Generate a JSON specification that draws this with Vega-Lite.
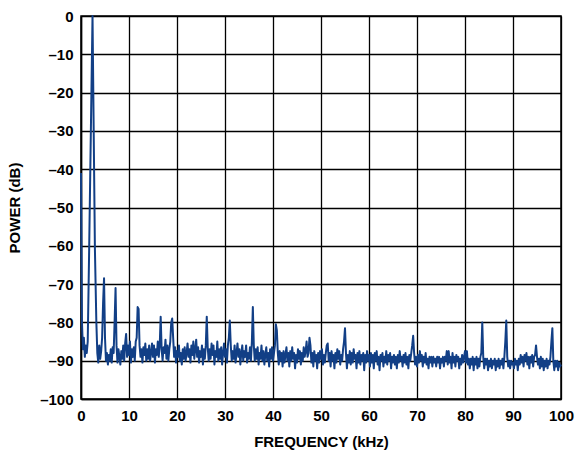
{
"$schema":"https://vega.github.io/schema/vega-lite/v6.json",
"autosize":"none","width":480,"height":383,
"padding":{"left":81,"top":16,"right":15,"bottom":52},
"background":"white",
"config":{"view":{"stroke":"black","strokeWidth":1.5},
"axis":{"labelFont":"Liberation Sans","titleFont":"Liberation Sans","labelFontWeight":"bold","titleFontWeight":"bold","labelFontSize":15,"titleFontSize":15,"labelColor":"black","titleColor":"black","gridColor":"black","gridWidth":1.3,"gridOpacity":1,"domainColor":"black","domainWidth":1.5,"ticks":false}},
"data":{"values":[
{"f":0,"p":-41},{"f":0.2,"p":-80},{"f":0.4,"p":-87},{"f":0.6,"p":-84},{"f":0.8,"p":-89},{"f":1.0,"p":-86},{"f":1.2,"p":-88},{"f":1.4,"p":-85},{"f":1.7,"p":-61},{"f":2.4,"p":0},{"f":2.9,"p":-61},{"f":3.2,"p":-80},
{"f":3.4,"p":-88},{"f":3.6,"p":-90.5},{"f":3.8,"p":-86},{"f":4.0,"p":-89.5},{"f":4.2,"p":-87.5},{"f":4.4,"p":-84},{"f":4.6,"p":-75},{"f":4.8,"p":-68.5},{"f":5.0,"p":-84},{"f":5.2,"p":-90},{"f":5.4,"p":-88},{"f":5.6,"p":-91},{"f":5.8,"p":-88.5},{"f":6.0,"p":-90},{"f":6.2,"p":-87},{"f":6.4,"p":-90.5},{"f":6.6,"p":-86.5},{"f":6.8,"p":-88},{"f":7.0,"p":-80},{"f":7.2,"p":-71},{"f":7.4,"p":-86},{"f":7.6,"p":-90.5},{"f":7.8,"p":-87},{"f":8.0,"p":-89},{"f":8.2,"p":-91},{"f":8.4,"p":-87.5},{"f":8.6,"p":-89.5},{"f":8.8,"p":-86},{"f":9.0,"p":-90},{"f":9.2,"p":-85.5},{"f":9.4,"p":-83},{"f":9.6,"p":-89},{"f":9.8,"p":-86},
{"f":10.0,"p":-88.5},{"f":10.2,"p":-85},{"f":10.4,"p":-90.5},{"f":10.6,"p":-87},{"f":10.8,"p":-89},{"f":11.0,"p":-86.5},{"f":11.2,"p":-90},{"f":11.4,"p":-85},{"f":11.6,"p":-84},{"f":11.8,"p":-76},{"f":12.0,"p":-76.5},{"f":12.2,"p":-86},{"f":12.4,"p":-89},{"f":12.6,"p":-87},{"f":12.8,"p":-90.5},{"f":13.0,"p":-86.5},{"f":13.2,"p":-88.5},{"f":13.4,"p":-85.5},{"f":13.6,"p":-90},{"f":13.8,"p":-87},{"f":14.0,"p":-89.5},{"f":14.2,"p":-86},{"f":14.4,"p":-90},{"f":14.6,"p":-88},{"f":14.8,"p":-85.5},{"f":15.0,"p":-89},{"f":15.2,"p":-86},{"f":15.4,"p":-90.5},{"f":15.6,"p":-87},{"f":15.8,"p":-88.5},{"f":16.0,"p":-85},{"f":16.2,"p":-89},{"f":16.4,"p":-86},{"f":16.6,"p":-78.5},{"f":16.8,"p":-87},{"f":17.0,"p":-90},{"f":17.2,"p":-86.5},{"f":17.4,"p":-88},{"f":17.6,"p":-84.5},{"f":17.8,"p":-89.5},{"f":18.0,"p":-86},{"f":18.2,"p":-90},{"f":18.4,"p":-87},{"f":18.6,"p":-85},{"f":18.8,"p":-80},{"f":19.0,"p":-79},{"f":19.2,"p":-84},{"f":19.4,"p":-89},{"f":19.6,"p":-86.5},{"f":19.8,"p":-90.5},
{"f":20.0,"p":-87.5},{"f":20.2,"p":-89},{"f":20.4,"p":-86},{"f":20.6,"p":-90},{"f":20.8,"p":-88},{"f":21.0,"p":-91},{"f":21.2,"p":-87},{"f":21.4,"p":-89.5},{"f":21.6,"p":-86.5},{"f":21.8,"p":-90},{"f":22.0,"p":-88},{"f":22.2,"p":-85.5},{"f":22.4,"p":-89},{"f":22.6,"p":-87},{"f":22.8,"p":-90.5},{"f":23.0,"p":-86},{"f":23.2,"p":-88.5},{"f":23.4,"p":-85},{"f":23.6,"p":-89.5},{"f":23.8,"p":-87},{"f":24.0,"p":-84.5},{"f":24.2,"p":-89},{"f":24.4,"p":-86.5},{"f":24.6,"p":-90.5},{"f":24.8,"p":-87.5},{"f":25.0,"p":-89},{"f":25.2,"p":-86},{"f":25.4,"p":-91},{"f":25.6,"p":-87},{"f":25.8,"p":-89.5},{"f":26.0,"p":-86},{"f":26.2,"p":-78.5},{"f":26.4,"p":-86.5},{"f":26.6,"p":-90},{"f":26.8,"p":-87},{"f":27.0,"p":-89.5},{"f":27.2,"p":-85.5},{"f":27.4,"p":-88.5},{"f":27.6,"p":-86},{"f":27.8,"p":-91},{"f":28.0,"p":-87.5},{"f":28.2,"p":-89},{"f":28.4,"p":-85},{"f":28.6,"p":-90},{"f":28.8,"p":-87},{"f":29.0,"p":-89.5},{"f":29.2,"p":-86.5},{"f":29.4,"p":-91},{"f":29.6,"p":-88},{"f":29.8,"p":-85.5},
{"f":30.0,"p":-89},{"f":30.2,"p":-87},{"f":30.4,"p":-90.5},{"f":30.6,"p":-86},{"f":30.8,"p":-84},{"f":31.0,"p":-79.5},{"f":31.2,"p":-86},{"f":31.4,"p":-90},{"f":31.6,"p":-87.5},{"f":31.8,"p":-89.5},{"f":32.0,"p":-86},{"f":32.2,"p":-90.5},{"f":32.4,"p":-88},{"f":32.6,"p":-85.5},{"f":32.8,"p":-89},{"f":33.0,"p":-87},{"f":33.2,"p":-91},{"f":33.4,"p":-88},{"f":33.6,"p":-86},{"f":33.8,"p":-90},{"f":34.0,"p":-87.5},{"f":34.2,"p":-89},{"f":34.4,"p":-86},{"f":34.6,"p":-90.5},{"f":34.8,"p":-88},{"f":35.0,"p":-89.5},{"f":35.2,"p":-86.5},{"f":35.4,"p":-90},{"f":35.6,"p":-85},{"f":35.8,"p":-76},{"f":36.0,"p":-86},{"f":36.2,"p":-90},{"f":36.4,"p":-87},{"f":36.6,"p":-89.5},{"f":36.8,"p":-86.5},{"f":37.0,"p":-91},{"f":37.2,"p":-88},{"f":37.4,"p":-89.5},{"f":37.6,"p":-86},{"f":37.8,"p":-90},{"f":38.0,"p":-87.5},{"f":38.2,"p":-91},{"f":38.4,"p":-88.5},{"f":38.6,"p":-86.5},{"f":38.8,"p":-90},{"f":39.0,"p":-88},{"f":39.2,"p":-91.5},{"f":39.4,"p":-87},{"f":39.6,"p":-89.5},{"f":39.8,"p":-86.5},
{"f":40.0,"p":-90},{"f":40.2,"p":-88},{"f":40.4,"p":-86},{"f":40.6,"p":-80.5},{"f":40.8,"p":-82},{"f":41.0,"p":-88},{"f":41.2,"p":-91},{"f":41.4,"p":-87.5},{"f":41.6,"p":-90},{"f":41.8,"p":-88},{"f":42.0,"p":-91.5},{"f":42.2,"p":-87.5},{"f":42.4,"p":-90.5},{"f":42.6,"p":-88.5},{"f":42.8,"p":-86.5},{"f":43.0,"p":-90},{"f":43.2,"p":-88},{"f":43.4,"p":-91.5},{"f":43.6,"p":-87.5},{"f":43.8,"p":-90},{"f":44.0,"p":-86.5},{"f":44.2,"p":-89.5},{"f":44.4,"p":-88},{"f":44.6,"p":-92},{"f":44.8,"p":-88.5},{"f":45.0,"p":-90.5},{"f":45.2,"p":-87},{"f":45.4,"p":-89.5},{"f":45.6,"p":-87.5},{"f":45.8,"p":-91},{"f":46.0,"p":-88},{"f":46.2,"p":-90},{"f":46.4,"p":-86.5},{"f":46.6,"p":-89},{"f":46.8,"p":-87.5},{"f":47.0,"p":-85},{"f":47.2,"p":-89},{"f":47.4,"p":-88},{"f":47.6,"p":-84},{"f":47.8,"p":-86},{"f":48.0,"p":-90.5},{"f":48.2,"p":-88},{"f":48.4,"p":-91.5},{"f":48.6,"p":-87.5},{"f":48.8,"p":-90},{"f":49.0,"p":-88.5},{"f":49.2,"p":-92},{"f":49.4,"p":-88},{"f":49.6,"p":-90.5},{"f":49.8,"p":-87.5},
{"f":50.0,"p":-89.5},{"f":50.2,"p":-87},{"f":50.4,"p":-91},{"f":50.6,"p":-88.5},{"f":50.8,"p":-90.5},{"f":51.0,"p":-88},{"f":51.2,"p":-86},{"f":51.4,"p":-85.5},{"f":51.6,"p":-90},{"f":51.8,"p":-88},{"f":52.0,"p":-91.5},{"f":52.2,"p":-87.5},{"f":52.4,"p":-90},{"f":52.6,"p":-88.5},{"f":52.8,"p":-92},{"f":53.0,"p":-88},{"f":53.2,"p":-90.5},{"f":53.4,"p":-87},{"f":53.6,"p":-89.5},{"f":53.8,"p":-87.5},{"f":54.0,"p":-91},{"f":54.2,"p":-88.5},{"f":54.4,"p":-90},{"f":54.6,"p":-87},{"f":54.8,"p":-85},{"f":55.0,"p":-81.5},{"f":55.2,"p":-88},{"f":55.4,"p":-92},{"f":55.6,"p":-88.5},{"f":55.8,"p":-90.5},{"f":56.0,"p":-87.5},{"f":56.2,"p":-91},{"f":56.4,"p":-88},{"f":56.6,"p":-90.5},{"f":56.8,"p":-87},{"f":57.0,"p":-89.5},{"f":57.2,"p":-88.5},{"f":57.4,"p":-92},{"f":57.6,"p":-88},{"f":57.8,"p":-90.5},{"f":58.0,"p":-87.5},{"f":58.2,"p":-91},{"f":58.4,"p":-88.5},{"f":58.6,"p":-90},{"f":58.8,"p":-88},{"f":59.0,"p":-92.5},{"f":59.2,"p":-88.5},{"f":59.4,"p":-90.5},{"f":59.6,"p":-87.5},{"f":59.8,"p":-90},
{"f":60.0,"p":-88.5},{"f":60.2,"p":-91.5},{"f":60.4,"p":-88},{"f":60.6,"p":-90.5},{"f":60.8,"p":-88.5},{"f":61.0,"p":-92},{"f":61.2,"p":-88},{"f":61.4,"p":-90},{"f":61.6,"p":-87.5},{"f":61.8,"p":-91},{"f":62.0,"p":-89},{"f":62.2,"p":-92.5},{"f":62.4,"p":-88.5},{"f":62.6,"p":-90},{"f":62.8,"p":-88},{"f":63.0,"p":-91.5},{"f":63.2,"p":-89},{"f":63.4,"p":-90.5},{"f":63.6,"p":-87.5},{"f":63.8,"p":-91},{"f":64.0,"p":-88.5},{"f":64.2,"p":-90},{"f":64.4,"p":-88},{"f":64.6,"p":-92},{"f":64.8,"p":-89},{"f":65.0,"p":-90.5},{"f":65.2,"p":-88.5},{"f":65.4,"p":-91},{"f":65.6,"p":-89},{"f":65.8,"p":-92},{"f":66.0,"p":-88.5},{"f":66.2,"p":-90.5},{"f":66.4,"p":-87.5},{"f":66.6,"p":-90},{"f":66.8,"p":-89},{"f":67.0,"p":-91.5},{"f":67.2,"p":-88.5},{"f":67.4,"p":-90.5},{"f":67.6,"p":-88},{"f":67.8,"p":-91},{"f":68.0,"p":-89},{"f":68.2,"p":-92},{"f":68.4,"p":-88.5},{"f":68.6,"p":-90},{"f":68.8,"p":-88},{"f":69.0,"p":-86},{"f":69.2,"p":-83.5},{"f":69.4,"p":-88},{"f":69.6,"p":-91},{"f":69.8,"p":-89},
{"f":70.0,"p":-91.5},{"f":70.2,"p":-88.5},{"f":70.4,"p":-90.5},{"f":70.6,"p":-87.5},{"f":70.8,"p":-90},{"f":71.0,"p":-88.5},{"f":71.2,"p":-91.5},{"f":71.4,"p":-89},{"f":71.6,"p":-90.5},{"f":71.8,"p":-88},{"f":72.0,"p":-91},{"f":72.2,"p":-89.5},{"f":72.4,"p":-92},{"f":72.6,"p":-89},{"f":72.8,"p":-90.5},{"f":73.0,"p":-89},{"f":73.2,"p":-91.5},{"f":73.4,"p":-89},{"f":73.6,"p":-90.5},{"f":73.8,"p":-89.5},{"f":74.0,"p":-91.5},{"f":74.2,"p":-89},{"f":74.4,"p":-90.5},{"f":74.6,"p":-89},{"f":74.8,"p":-92},{"f":75.0,"p":-89.5},{"f":75.2,"p":-90.5},{"f":75.4,"p":-89},{"f":75.6,"p":-91.5},{"f":75.8,"p":-89},{"f":76.0,"p":-90},{"f":76.2,"p":-87.5},{"f":76.4,"p":-91},{"f":76.6,"p":-87.5},{"f":76.8,"p":-90.5},{"f":77.0,"p":-89},{"f":77.2,"p":-92},{"f":77.4,"p":-88},{"f":77.6,"p":-90.5},{"f":77.8,"p":-89},{"f":78.0,"p":-91.5},{"f":78.2,"p":-88.5},{"f":78.4,"p":-90},{"f":78.6,"p":-89},{"f":78.8,"p":-92},{"f":79.0,"p":-89.5},{"f":79.2,"p":-91},{"f":79.4,"p":-88.5},{"f":79.6,"p":-90.5},{"f":79.8,"p":-89},
{"f":80.0,"p":-87.5},{"f":80.2,"p":-90.5},{"f":80.4,"p":-87.5},{"f":80.6,"p":-91},{"f":80.8,"p":-89.5},{"f":81.0,"p":-92},{"f":81.2,"p":-89.5},{"f":81.4,"p":-91},{"f":81.6,"p":-89},{"f":81.8,"p":-92.5},{"f":82.0,"p":-89.5},{"f":82.2,"p":-91},{"f":82.4,"p":-89},{"f":82.6,"p":-92},{"f":82.8,"p":-89.5},{"f":83.0,"p":-91.5},{"f":83.2,"p":-89},{"f":83.4,"p":-88},{"f":83.6,"p":-80},{"f":83.8,"p":-89},{"f":84.0,"p":-92},{"f":84.2,"p":-89.5},{"f":84.4,"p":-91},{"f":84.6,"p":-89.5},{"f":84.8,"p":-92.5},{"f":85.0,"p":-90},{"f":85.2,"p":-91.5},{"f":85.4,"p":-89.5},{"f":85.6,"p":-92},{"f":85.8,"p":-90},{"f":86.0,"p":-91},{"f":86.2,"p":-89.5},{"f":86.4,"p":-92.5},{"f":86.6,"p":-90},{"f":86.8,"p":-91.5},{"f":87.0,"p":-89.5},{"f":87.2,"p":-92},{"f":87.4,"p":-90},{"f":87.6,"p":-91},{"f":87.8,"p":-89.5},{"f":88.0,"p":-92},{"f":88.2,"p":-89},{"f":88.4,"p":-85},{"f":88.6,"p":-79.5},{"f":88.8,"p":-89},{"f":89.0,"p":-91.5},{"f":89.2,"p":-90},{"f":89.4,"p":-92},{"f":89.6,"p":-90},{"f":89.8,"p":-91},
{"f":90.0,"p":-90.5},{"f":90.2,"p":-92},{"f":90.4,"p":-89.5},{"f":90.6,"p":-91},{"f":90.8,"p":-90},{"f":91.0,"p":-92.5},{"f":91.2,"p":-89.5},{"f":91.4,"p":-91},{"f":91.6,"p":-88.5},{"f":91.8,"p":-90.5},{"f":92.0,"p":-89},{"f":92.2,"p":-91.5},{"f":92.4,"p":-88.5},{"f":92.6,"p":-90},{"f":92.8,"p":-88},{"f":93.0,"p":-91},{"f":93.2,"p":-89},{"f":93.4,"p":-92},{"f":93.6,"p":-89},{"f":93.8,"p":-90.5},{"f":94.0,"p":-88.5},{"f":94.2,"p":-91.5},{"f":94.4,"p":-89},{"f":94.6,"p":-88.5},{"f":94.8,"p":-86},{"f":95.0,"p":-89},{"f":95.2,"p":-91},{"f":95.4,"p":-89.5},{"f":95.6,"p":-92},{"f":95.8,"p":-89},{"f":96.0,"p":-91.5},{"f":96.2,"p":-89.5},{"f":96.4,"p":-92.5},{"f":96.6,"p":-90},{"f":96.8,"p":-91.5},{"f":97.0,"p":-89.5},{"f":97.2,"p":-92},{"f":97.4,"p":-90},{"f":97.6,"p":-91},{"f":97.8,"p":-89},{"f":98.0,"p":-85},{"f":98.2,"p":-81.5},{"f":98.4,"p":-90},{"f":98.6,"p":-92.5},{"f":98.8,"p":-90},{"f":99.0,"p":-91.5},{"f":99.2,"p":-90},{"f":99.4,"p":-92.5},{"f":99.6,"p":-90.5},{"f":99.8,"p":-91.5},{"f":100,"p":-91}
]},
"mark":{"type":"line","color":"#123F86","strokeWidth":2,"strokeJoin":"round"},
"encoding":{
"x":{"field":"f","type":"quantitative","scale":{"domain":[0,100],"nice":false},"axis":{"values":[0,10,20,30,40,50,60,70,80,90,100],"title":"FREQUENCY (kHz)","labelPadding":9,"titlePadding":11,"labelFlush":false}},
"y":{"field":"p","type":"quantitative","scale":{"domain":[-100,0],"nice":false},"axis":{"values":[-100,-90,-80,-70,-60,-50,-40,-30,-20,-10,0],"title":"POWER (dB)","labelPadding":8,"titlePadding":17,"labelFlush":false,"labelExpr":"datum.value < 0 ? '–' + abs(datum.value) : '' + datum.value"}}
}
}
